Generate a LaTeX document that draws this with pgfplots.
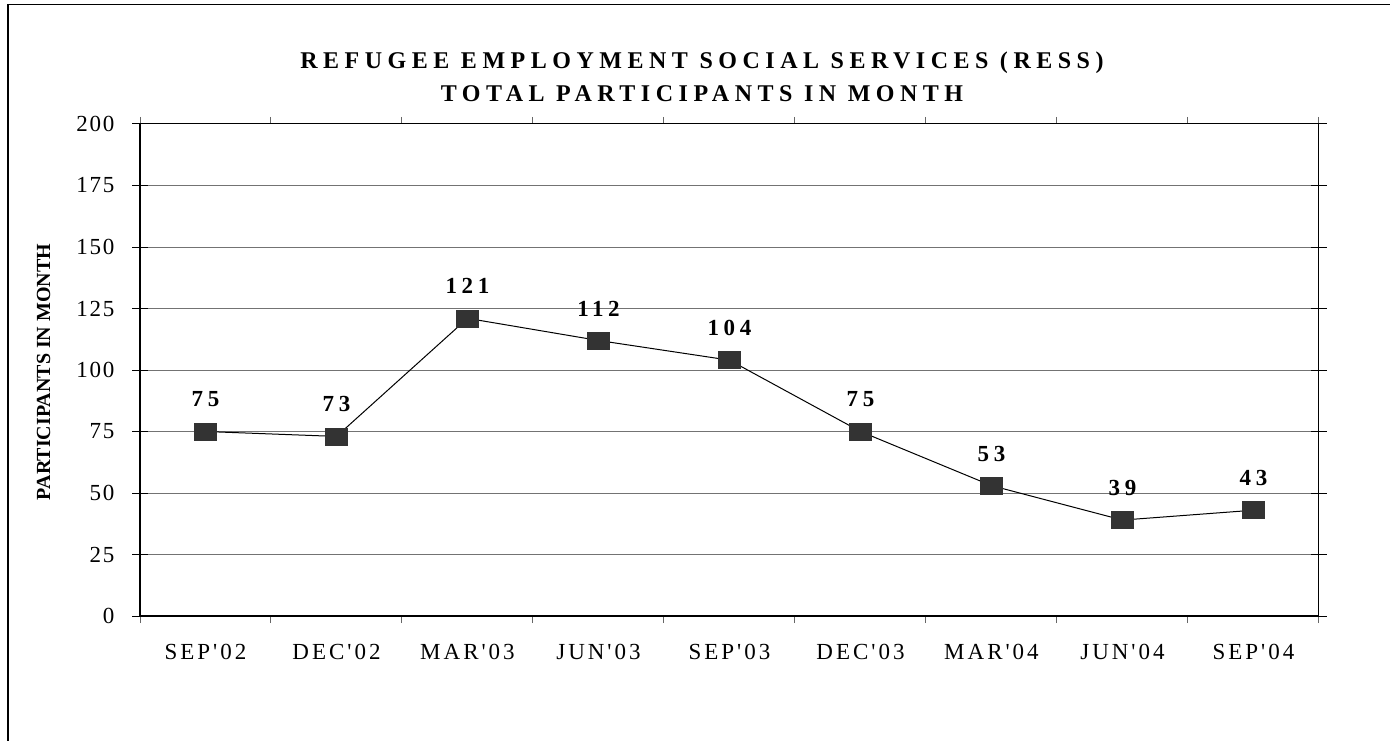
\documentclass[border=0pt]{standalone}
\usepackage{fontspec}
\setmainfont{Liberation Serif}
\usepackage{pgfplots}
\pgfplotsset{compat=1.18}
\newfontfamily\titlefont[LetterSpace=23]{Liberation Serif}
\newfontfamily\ytickfont[LetterSpace=8]{Liberation Serif}
\newfontfamily\xtickfont[LetterSpace=13]{Liberation Serif}
\newfontfamily\labfont[LetterSpace=20]{Liberation Serif}
\begin{document}
\begin{tikzpicture}[x=1pt,y=1pt]
\useasboundingbox (0,0) rectangle (1390,740);
\draw[line width=1.3pt] (8,-10) -- (8,735.5) -- (1400,735.5);
\node[font=\titlefont\bfseries\fontsize{24}{28}\selectfont] at (702,677) {REFUGEE EMPLOYMENT SOCIAL SERVICES (RESS)};
\node[font=\titlefont\bfseries\fontsize{24}{28}\selectfont] at (702,646) {TOTAL PARTICIPANTS IN MONTH};
\node[font=\bfseries\fontsize{20}{24}\selectfont, rotate=90] at (43.5,368) {PARTICIPANTS IN MONTH};
\begin{axis}[
  at={(140pt,124pt)}, anchor=south west,
  width=1179pt, height=492pt, scale only axis,
  xmin=0.5, xmax=9.5, ymin=0, ymax=200,
  /pgf/number format/assume math mode=true,
  xtick={1,...,9},
  xticklabels={SEP'02,DEC'02,MAR'03,JUN'03,SEP'03,DEC'03,MAR'04,JUN'04,SEP'04},
  minor xtick={0.5,1.5,...,9.5},
  major x tick style={draw=none},
  minor x tick style={draw=black!60, line width=1pt},
  minor tick length=7pt,
  xtick align=outside,
  x tick label style={font=\xtickfont\fontsize{23}{27}\selectfont, yshift=-9pt},
  ytick={0,25,...,200},
  yticklabels={0,25,50,75,100,125,150,175,200},
  ytick align=center,
  major tick length=16pt,
  y tick style={black, line width=1pt},
  y tick label style={font=\ytickfont\fontsize{23}{27}\selectfont, xshift=-14pt},
  ymajorgrids,
  grid style={black!55, line width=1pt},
  axis line style={black, line width=1pt},
  clip=false,
  nodes near coords={\pgfmathprintnumber[assume math mode=true]{\pgfplotspointmeta}},
  every node near coord/.style={font=\labfont\bfseries\fontsize{23}{27}\selectfont, anchor=center, yshift=32pt, black},
]
\addplot[black, line width=1pt, mark=square*, mark size=8.5pt,
  mark options={xscale=1.3, solid, fill=black!80, draw=black!80, line width=0.5pt}]
  coordinates {(1,75) (2,73) (3,121) (4,112) (5,104) (6,75) (7,53) (8,39) (9,43)};
\draw[line width=2pt, black] (rel axis cs:0,0) -- (rel axis cs:0,1);
\draw[line width=2pt, black] (rel axis cs:0,0) -- (rel axis cs:1,0);
\end{axis}
\end{tikzpicture}
\end{document}
